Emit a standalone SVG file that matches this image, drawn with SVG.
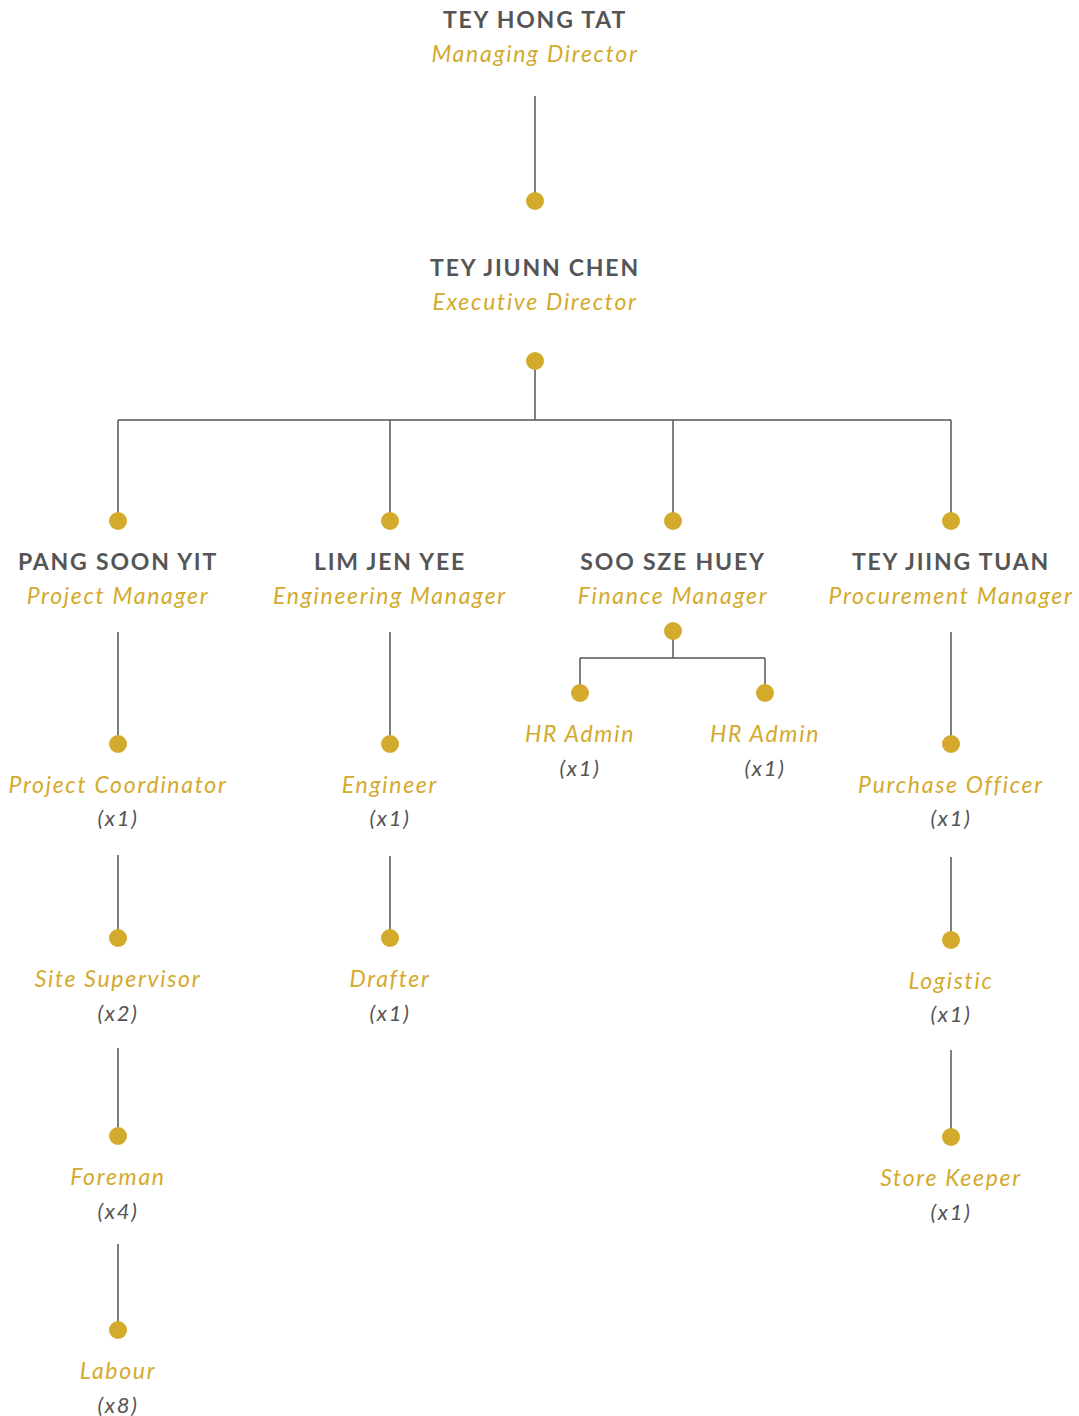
<svg xmlns="http://www.w3.org/2000/svg" width="1079" height="1416" viewBox="0 0 1079 1416">
<style>
.name{font-family:Lato,"Liberation Sans",sans-serif;font-weight:700;font-size:23px;fill:#555555;text-anchor:middle;letter-spacing:1.8px}
.role{font-family:Lato,"Liberation Sans",sans-serif;font-style:italic;font-size:23px;fill:#D4AA2C;text-anchor:middle;letter-spacing:1.7px}
.cnt{font-family:Lato,"Liberation Sans",sans-serif;font-style:italic;font-size:22px;fill:#555555;text-anchor:middle;letter-spacing:1.7px}
.ln{stroke:#555555;stroke-width:1.5;fill:none}
.dot{fill:#D4AA2C}
</style>
<rect width="1079" height="1416" fill="#ffffff"/>
<g id="connectors">
<path class="ln" d="M535 96V201"/>
<path class="ln" d="M535 361V420M118 420H951M118 420V521M390 420V521M673 420V521M951 420V521"/>
<path class="ln" d="M118 632V744M118 855V938M118 1048V1136M118 1244V1330"/>
<path class="ln" d="M390 632V744M390 856V938"/>
<path class="ln" d="M673 631V658M580 658H765M580 658V693M765 658V693"/>
<path class="ln" d="M951 632V744M951 857V940M951 1050V1137"/>
<circle class="dot" cx="535" cy="201" r="9"/>
<circle class="dot" cx="535" cy="361" r="9"/>
<circle class="dot" cx="118" cy="521" r="9"/>
<circle class="dot" cx="390" cy="521" r="9"/>
<circle class="dot" cx="673" cy="521" r="9"/>
<circle class="dot" cx="951" cy="521" r="9"/>
<circle class="dot" cx="118" cy="744" r="9"/>
<circle class="dot" cx="118" cy="938" r="9"/>
<circle class="dot" cx="118" cy="1136" r="9"/>
<circle class="dot" cx="118" cy="1330" r="9"/>
<circle class="dot" cx="390" cy="744" r="9"/>
<circle class="dot" cx="390" cy="938" r="9"/>
<circle class="dot" cx="673" cy="631" r="9"/>
<circle class="dot" cx="580" cy="693" r="9"/>
<circle class="dot" cx="765" cy="693" r="9"/>
<circle class="dot" cx="951" cy="744" r="9"/>
<circle class="dot" cx="951" cy="940" r="9"/>
<circle class="dot" cx="951" cy="1137" r="9"/>
</g>
<g id="md"><text class="name" x="535" y="28">TEY HONG TAT</text><text class="role" x="535" y="62">Managing Director</text></g>
<g id="ed"><text class="name" x="535" y="276">TEY JIUNN CHEN</text><text class="role" x="535" y="310">Executive Director</text></g>
<g id="pm"><text class="name" x="118" y="570">PANG SOON YIT</text><text class="role" x="118" y="604">Project Manager</text></g>
<g id="em"><text class="name" x="390" y="570">LIM JEN YEE</text><text class="role" x="390" y="604">Engineering Manager</text></g>
<g id="fm"><text class="name" x="673" y="570">SOO SZE HUEY</text><text class="role" x="673" y="604">Finance Manager</text></g>
<g id="prm"><text class="name" x="951" y="570">TEY JIING TUAN</text><text class="role" x="951" y="604">Procurement Manager</text></g>
<g id="pc"><text class="role" x="118" y="793">Project Coordinator</text><text class="cnt" x="118" y="826">(x1)</text></g>
<g id="ss"><text class="role" x="118" y="987">Site Supervisor</text><text class="cnt" x="118" y="1021">(x2)</text></g>
<g id="fo"><text class="role" x="118" y="1185">Foreman</text><text class="cnt" x="118" y="1219">(x4)</text></g>
<g id="lb"><text class="role" x="118" y="1379">Labour</text><text class="cnt" x="118" y="1413">(x8)</text></g>
<g id="eng"><text class="role" x="390" y="793">Engineer</text><text class="cnt" x="390" y="826">(x1)</text></g>
<g id="dr"><text class="role" x="390" y="987">Drafter</text><text class="cnt" x="390" y="1021">(x1)</text></g>
<g id="hr1"><text class="role" x="580" y="742">HR Admin</text><text class="cnt" x="580" y="776">(x1)</text></g>
<g id="hr2"><text class="role" x="765" y="742">HR Admin</text><text class="cnt" x="765" y="776">(x1)</text></g>
<g id="po"><text class="role" x="951" y="793">Purchase Officer</text><text class="cnt" x="951" y="826">(x1)</text></g>
<g id="lg"><text class="role" x="951" y="989">Logistic</text><text class="cnt" x="951" y="1022">(x1)</text></g>
<g id="sk"><text class="role" x="951" y="1186">Store Keeper</text><text class="cnt" x="951" y="1220">(x1)</text></g>
</svg>
